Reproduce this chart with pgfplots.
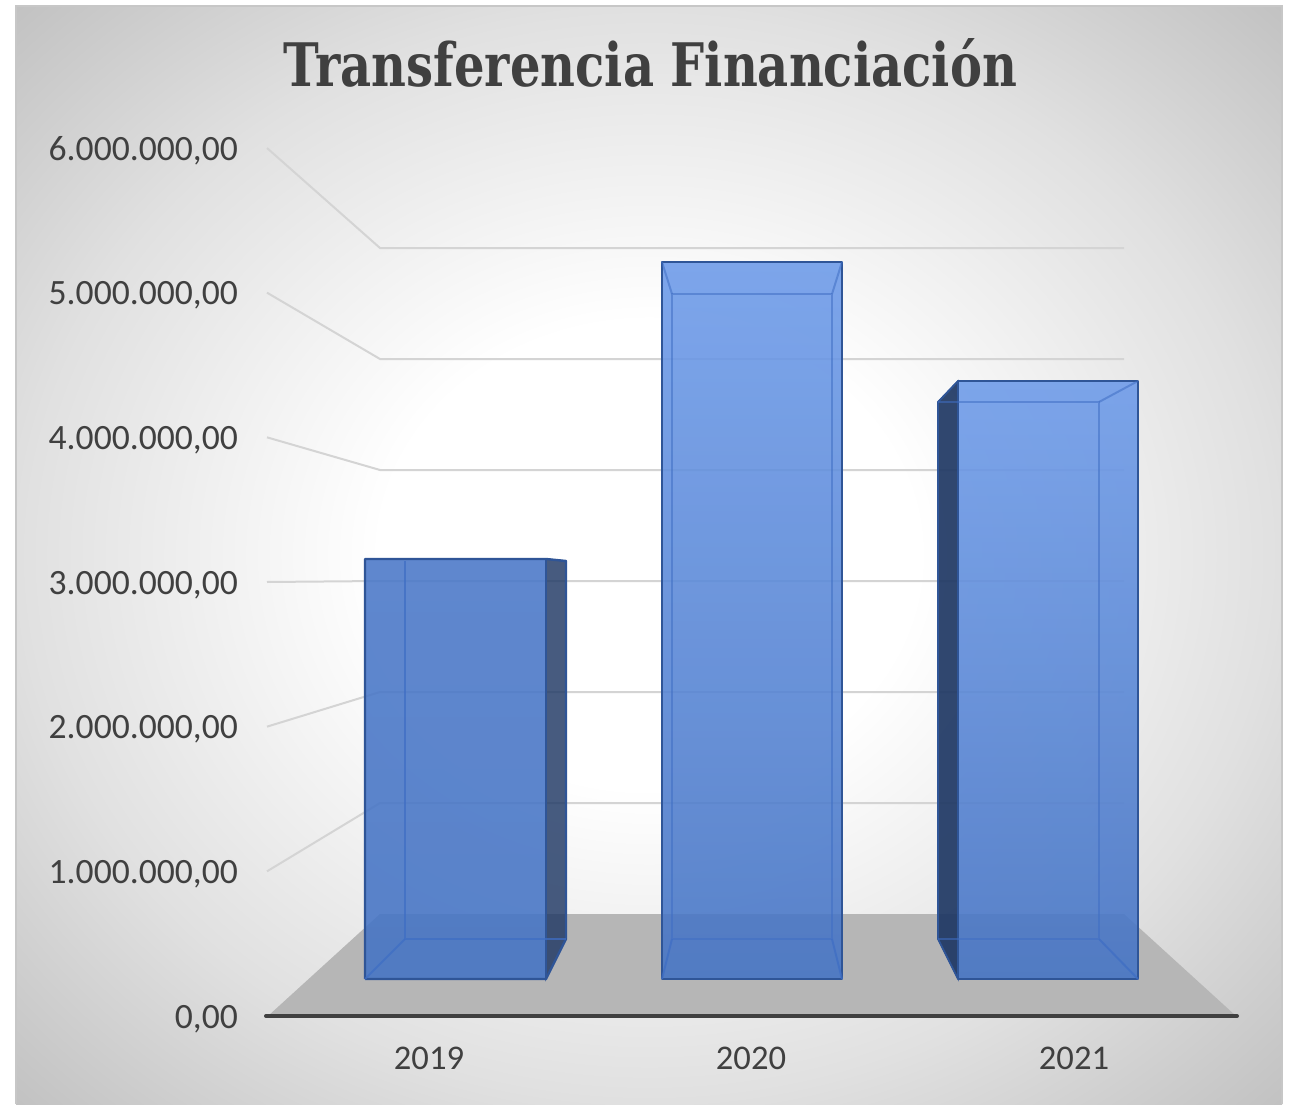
\documentclass[border=0pt]{standalone}
\usepackage{fontspec}
\setmainfont{Carlito}
\newfontfamily\titlefont{DejaVu Serif}[BoldFont={DejaVu Serif Bold}]
\usepackage{pgfplots}
\pgfplotsset{compat=1.18}
\definecolor{txt}{HTML}{404040}
\definecolor{gridc}{HTML}{D4D4D4}
\definecolor{floorc}{HTML}{B6B6B6}
\definecolor{edgec}{HTML}{2F5597}
\definecolor{innerc}{HTML}{3F6EC4}
\definecolor{sidec}{HTML}{1F3864}
\pgfdeclareradialshading{panelbg}{\pgfpoint{0bp}{0bp}}{
  color(0bp)=(white); color(7.5bp)=(white);
  color(17.5bp)=(black!12); color(25bp)=(black!24); color(50bp)=(black!24)}
\begin{document}
\begin{tikzpicture}[x=1pt,y=1pt]
\path[use as bounding box] (0,0) rectangle (644.5,552);
\begin{scope}
  \clip (8,0) rectangle (641,549);
  \shade[shading=panelbg] (324.5-447.6,274.5-388.2) rectangle (324.5+447.6,274.5+388.2);
\end{scope}
\draw[black!22,line width=0.8pt] (8,0) -- (8,549) -- (641,549) -- (641,0);
\begin{axis}[
  at={(132.5pt,44pt)},anchor=south west,
  scale only axis,width=486.5pt,height=434pt,
  xmin=265,xmax=1238,ymin=0,ymax=6000000,
  clip=false,
  axis x line=bottom,axis y line=left,
  x axis line style={-,draw=none},
  y axis line style={draw=none},
  major tick length=0pt,
  scaled y ticks=false,
  xtick={429,751,1074},
  xticklabels={2019,2020,2021},
  ytick={0,1000000,2000000,3000000,4000000,5000000,6000000},
  yticklabels={{0,00},{1.000.000,00},{2.000.000,00},{3.000.000,00},{4.000.000,00},{5.000.000,00},{6.000.000,00}},
  tick label style={font=\fontsize{17.8}{20}\selectfont,text=txt},
  yticklabel style={xshift=-10pt,yshift=-1.5pt},
  xticklabel style={yshift=-12pt,font=\fontsize{17.3}{20}\selectfont},
]
% floor
\addplot[fill=floorc,draw=none] coordinates {(380,705069)(1124,705069)(1236,0)(268,0)} -- cycle;
% back wall and side wall gridlines
\addplot[gridc,line width=1pt] coordinates {(267,6000000)(380,5308750)(1124,5308750)};
\addplot[gridc,line width=1pt] coordinates {(267,5000000)(380,4541470)(1124,4541470)};
\addplot[gridc,line width=1pt] coordinates {(267,4000000)(380,3774190)(1124,3774190)};
\addplot[gridc,line width=1pt] coordinates {(267,3000000)(380,3006910)(1124,3006910)};
\addplot[gridc,line width=1pt] coordinates {(267,2000000)(380,2239630)(1124,2239630)};
\addplot[gridc,line width=1pt] coordinates {(267,1000000)(380,1472350)(1124,1472350)};
% 2019 side
\addplot[fill=sidec,fill opacity=.82,draw=edgec,line width=.6pt] coordinates {(546,3159000)(566,3145160)(566,532258)(546,255760)} -- cycle;
% 2019 front
\addplot[top color={rgb,255:red,73;green,119;blue,200},bottom color={rgb,255:red,68;green,115;blue,196},opacity=.88,draw=none] coordinates {(365,3159000)(546,3159000)(546,255760)(365,255760)} -- cycle;
\addplot[edgec,line width=1.2pt,line join=round] coordinates {(365,255760)(365,3159000)(546,3159000)(566,3145160)(566,532258)(546,255760)(365,255760)};
\addplot[edgec,line width=.9pt] coordinates {(546,255760)(546,3159000)};
\addplot[innerc,opacity=.75,line width=1pt] coordinates {(405,3145160)(405,532258)(566,532258)};
\addplot[innerc,opacity=.75,line width=1pt] coordinates {(365,255760)(405,532258)};
% 2020 front
\addplot[top color={rgb,255:red,108;green,154;blue,233},bottom color={rgb,255:red,68;green,115;blue,196},opacity=.88,draw=none] coordinates {(662,5212000)(842,5212000)(842,255760)(662,255760)} -- cycle;
\addplot[edgec,line width=1.2pt,line join=round] coordinates {(662,5212000)(842,5212000)(842,255760)(662,255760)} -- cycle;
\addplot[innerc,opacity=.55,line width=1pt,line join=round] coordinates {(672,4990780)(832,4990780)(832,532258)(672,532258)} -- cycle;
\addplot[innerc,opacity=.55,line width=1pt] coordinates {(662,5212000)(672,4990780)};
\addplot[innerc,opacity=.55,line width=1pt] coordinates {(842,5212000)(832,4990780)};
\addplot[innerc,opacity=.75,line width=1pt] coordinates {(662,255760)(672,532258)};
\addplot[innerc,opacity=.75,line width=1pt] coordinates {(842,255760)(832,532258)};
% 2021 side
\addplot[fill=sidec,fill opacity=.92,draw=edgec,line width=.6pt] coordinates {(958,4389400)(938,4244240)(938,532258)(958,255760)} -- cycle;
% 2021 front
\addplot[top color={rgb,255:red,108;green,154;blue,233},bottom color={rgb,255:red,68;green,115;blue,196},opacity=.88,draw=none] coordinates {(958,4389400)(1138,4389400)(1138,255760)(958,255760)} -- cycle;
\addplot[edgec,line width=1.2pt,line join=round] coordinates {(958,4389400)(1138,4389400)(1138,255760)(958,255760)} -- cycle;
\addplot[edgec,line width=.9pt,line join=round] coordinates {(958,4389400)(938,4244240)(938,532258)(958,255760)};
\addplot[innerc,opacity=.55,line width=1pt] coordinates {(938,4244240)(1099,4244240)(1099,532258)(938,532258)};
\addplot[innerc,opacity=.55,line width=1pt] coordinates {(1138,4389400)(1099,4244240)};
\addplot[innerc,opacity=.75,line width=1pt] coordinates {(1138,255760)(1099,532258)};
% axis line
\addplot[txt,line width=2pt,line cap=round] coordinates {(266,0)(1237,0)};
\end{axis}
\node[text=txt,inner sep=0pt] at (325,520.5) {\scalebox{0.8}[1]{\titlefont\bfseries\fontsize{30}{34}\selectfont Transferencia Financiación}};
\end{tikzpicture}
\end{document}
